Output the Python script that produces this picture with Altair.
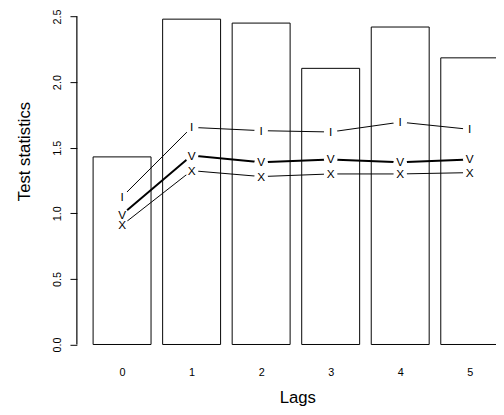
import altair as alt
import pandas as pd

lags = [0, 1, 2, 3, 4, 5]
stat = [1.43, 2.48, 2.45, 2.105, 2.42, 2.185]
series_I = [1.125, 1.655, 1.63, 1.62, 1.695, 1.64]
series_V = [0.99, 1.44, 1.39, 1.41, 1.39, 1.41]
series_X = [0.91, 1.325, 1.28, 1.30, 1.30, 1.31]
y_ticks = [0.0, 0.5, 1.0, 1.5, 2.0, 2.5]

FONT = "Liberation Sans"
SPACE = 0.2
BW = 1.0
centers = [SPACE + BW / 2 + (BW + SPACE) * l for l in lags]

bars = pd.DataFrame({
    "lag": lags,
    "x0": [SPACE + (BW + SPACE) * l for l in lags],
    "x1": [SPACE + BW + (BW + SPACE) * l for l in lags],
    "stat": stat,
})

rows = []
for name, vals in (("I", series_I), ("V", series_V), ("X", series_X)):
    for l, c, v in zip(lags, centers, vals):
        rows.append({"series": name, "lag": l, "xc": c, "val": v})
pts = pd.DataFrame(rows)

xdom = [-0.08, 7.153]
ydom = [-0.1, 2.54]
xs = alt.Scale(domain=xdom, nice=False, zero=False)
ys = alt.Scale(domain=ydom, nice=False, zero=False)

x_axis = alt.Axis(
    values=centers, labelExpr="format((datum.value - 0.7) / 1.2, 'd')",
    domain=False, ticks=False, tickSize=0, grid=False,
    labelFont=FONT, labelFontSize=11, labelColor="black", labelPadding=9,
    title="Lags", titleFont=FONT, titleFontSize=17, titleFontWeight="normal",
    titleColor="black", titleX=224, titleY=46, titleBaseline="alphabetic",
    titleAnchor="start", titleAlign="center",
)
y_axis = alt.Axis(
    values=y_ticks, format=".1f", domain=False, grid=False,
    ticks=True, tickSize=7, tickColor="black", tickWidth=1, tickOpacity=1,
    labelAngle=-90, labelAlign="center", labelBaseline="alphabetic",
    labelFont=FONT, labelFontSize=11, labelColor="black", labelPadding=10,
    title="Test statistics", titleFont=FONT, titleFontSize=17,
    titleFontWeight="normal", titleColor="black", titleAngle=-90,
    titleX=-53, titleY=142, titleAlign="center", titleBaseline="middle",
    titleAnchor="start",
)

bar_layer = alt.Chart(bars).mark_rect(
    fill="white", stroke="black", strokeWidth=1, clip=True
).encode(
    x=alt.X("x0:Q", scale=xs, axis=x_axis),
    x2="x1:Q",
    y=alt.Y("stat:Q", scale=ys, axis=y_axis),
    y2=alt.Y2(datum=0),
)

axis_df = pd.DataFrame({"lo": [min(y_ticks)], "hi": [max(y_ticks)]})
axis_line = alt.Chart(axis_df).mark_rule(
    color="#000000", stroke="#000000", strokeWidth=1.2, opacity=1
).encode(
    x=alt.value(0),
    y=alt.Y("lo:Q", scale=ys),
    y2=alt.Y2("hi:Q"),
)

line_layer = alt.Chart(pts).mark_line(color="black").encode(
    x=alt.X("xc:Q", scale=xs),
    y=alt.Y("val:Q", scale=ys),
    detail="series:N",
    strokeWidth=alt.condition(alt.datum.series == "V", alt.value(2), alt.value(1)),
)

mask_layer = alt.Chart(pts).mark_point(
    shape="circle", filled=True, fill="white", opacity=1, size=190, strokeWidth=0
).encode(
    x=alt.X("xc:Q", scale=xs),
    y=alt.Y("val:Q", scale=ys),
)

text_layer = alt.Chart(pts).mark_text(
    font=FONT, fontSize=12, color="black", fill="black", align="center", baseline="middle"
).encode(
    x=alt.X("xc:Q", scale=xs),
    y=alt.Y("val:Q", scale=ys),
    text="series:N",
)

chart = alt.layer(bar_layer, line_layer, mask_layer, text_layer, axis_line).properties(
    width=426, height=352,
    autosize=alt.AutoSizeParams(type="none"),
    padding={"left": 70, "top": 0, "right": 0, "bottom": 55},
    background="white",
).configure_view(stroke=None)

chart.save("out.html", embed_options={"renderer": "svg", "actions": False})
